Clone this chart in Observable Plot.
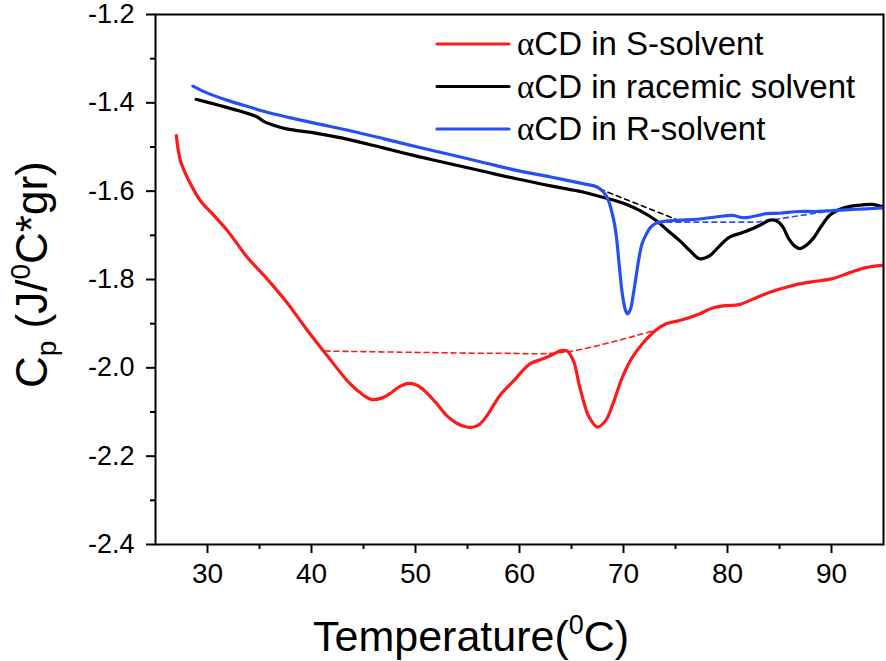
<!DOCTYPE html>
<html>
<head>
<meta charset="utf-8">
<script src="https://cdn.jsdelivr.net/npm/d3@7"></script>
<script src="https://cdn.jsdelivr.net/npm/@observablehq/plot@0.6"></script>
<style>
  html, body { margin: 0; padding: 0; background: white; }
  #chart { position: relative; width: 886px; height: 661px; }
</style>
</head>
<body>
<div id="chart"></div>
<script>
// ---- data ----
const sTemp = [27.0, 27.4, 28.2, 29.3, 30.5, 31.9, 33.8, 35.7, 37.6, 39.5, 41.5, 43.7, 45.0, 45.8, 46.8, 47.5, 48.5, 49.4, 50.2, 51.0, 52.0, 53.0, 54.0, 54.9, 55.6, 56.2, 57.0, 58.1, 59.5, 61.0, 62.2, 63.0, 64.0, 64.6, 65.2, 65.8, 66.7, 67.5, 68.3, 69.0, 69.9, 70.8, 71.8, 73.1, 74.1, 75.4, 77.3, 78.5, 79.9, 81.1, 82.4, 83.7, 85.3, 86.9, 88.5, 90.1, 91.7, 93.3, 94.9];
const sCp   = [-1.474, -1.531, -1.576, -1.621, -1.652, -1.689, -1.749, -1.798, -1.851, -1.912, -1.972, -2.036, -2.062, -2.072, -2.068, -2.059, -2.042, -2.035, -2.040, -2.055, -2.080, -2.108, -2.126, -2.134, -2.134, -2.127, -2.104, -2.063, -2.028, -1.991, -1.980, -1.972, -1.961, -1.962, -1.985, -2.044, -2.112, -2.134, -2.119, -2.080, -2.021, -1.978, -1.946, -1.915, -1.900, -1.893, -1.878, -1.865, -1.859, -1.857, -1.845, -1.832, -1.820, -1.810, -1.804, -1.798, -1.785, -1.773, -1.768];

const racTemp = [28.9, 31.0, 33.0, 34.7, 35.4, 36.5, 37.6, 40.5, 43.0, 46.9, 50.0, 53.3, 56.5, 59.7, 63.0, 66.1, 67.7, 69.0, 70.3, 71.5, 73.1, 74.3, 75.4, 76.4, 77.3, 78.3, 79.2, 80.2, 81.3, 82.4, 83.3, 84.0, 84.7, 85.3, 85.9, 86.5, 87.0, 87.6, 88.2, 89.0, 89.8, 90.7, 91.7, 93.0, 93.9, 94.9];
const racCp   = [-1.392, -1.405, -1.418, -1.431, -1.442, -1.452, -1.459, -1.469, -1.480, -1.502, -1.520, -1.538, -1.555, -1.572, -1.588, -1.602, -1.612, -1.620, -1.630, -1.643, -1.666, -1.690, -1.712, -1.735, -1.753, -1.746, -1.725, -1.704, -1.695, -1.685, -1.675, -1.666, -1.667, -1.680, -1.708, -1.725, -1.730, -1.722, -1.708, -1.680, -1.655, -1.642, -1.635, -1.631, -1.630, -1.635];

const rTemp = [28.6, 30.0, 32.0, 34.1, 36.0, 38.0, 40.5, 43.5, 46.9, 50.0, 53.3, 56.5, 59.7, 63.0, 66.1, 67.4, 68.0, 68.5, 69.0, 69.3, 69.6, 69.9, 70.2, 70.4, 70.7, 70.9, 71.2, 71.5, 71.8, 72.2, 72.6, 73.1, 74.0, 75.0, 77.3, 79.0, 80.5, 81.5, 82.1, 83.7, 85.0, 86.9, 88.5, 90.1, 91.7, 93.3, 94.9];
const rCp   = [-1.362, -1.378, -1.395, -1.410, -1.423, -1.434, -1.447, -1.462, -1.481, -1.499, -1.517, -1.535, -1.553, -1.568, -1.583, -1.590, -1.600, -1.618, -1.659, -1.700, -1.770, -1.835, -1.870, -1.878, -1.865, -1.840, -1.795, -1.750, -1.718, -1.697, -1.682, -1.673, -1.668, -1.666, -1.663, -1.658, -1.655, -1.660, -1.659, -1.651, -1.650, -1.646, -1.646, -1.644, -1.642, -1.640, -1.638];

// dashed baselines
const sBaseTemp = [41.3, 50.0, 58.0, 64.5, 73.3];
const sBaseCp   = [-1.962, -1.965, -1.967, -1.964, -1.913];
const racBaseTemp = [67.7, 75.5];
const racBaseCp   = [-1.595, -1.668];
const rBaseTemp = [73.3, 82.9, 89.8];
const rBaseCp   = [-1.670, -1.670, -1.645];

const seriesNames = ["αCD in S-solvent", "αCD in racemic solvent", "αCD in R-solvent"];
const seriesColors = ["#ff1a1a", "#000000", "#2650f5"];

const xMajor = [30, 40, 50, 60, 70, 80, 90];
const xMinor = [35, 45, 55, 65, 75, 85];
const yMajor = [-2.4, -2.2, -2.0, -1.8, -1.6, -1.4, -1.2];
const yMinor = [-2.3, -2.1, -1.9, -1.7, -1.5, -1.3];

// ---- build tables ----
const toRows = (xs, ys) => xs.map((x, i) => ({x, y: ys[i]}));
const sRows = toRows(sTemp, sCp);
const racRows = toRows(racTemp, racCp);
const rRows = toRows(rTemp, rCp);

const font = "'Liberation Sans', Arial, Helvetica, sans-serif";

const plot = Plot.plot({
  width: 886,
  height: 661,
  marginLeft: 155,
  marginRight: 3,
  marginTop: 14,
  marginBottom: 117,
  style: {fontFamily: font, background: "white", color: "black", overflow: "visible"},
  x: {domain: [25, 95]},
  y: {domain: [-2.4, -1.2]},
  marks: [
    Plot.axisX({ticks: xMajor, tickSize: 9, tickPadding: 10, strokeWidth: 2, label: null, tickFormat: d => String(d)}),
    Plot.axisX({ticks: xMinor, tickSize: 5, strokeWidth: 2, label: null, tickFormat: () => ""}),
    Plot.axisY({ticks: yMajor, tickSize: 9, tickPadding: 12, strokeWidth: 2, label: null, tickFormat: d => d.toFixed(1)}),
    Plot.axisY({ticks: yMinor, tickSize: 5, strokeWidth: 2, label: null, tickFormat: () => ""}),
    Plot.line(toRows(sBaseTemp, sBaseCp), {x: "x", y: "y", stroke: seriesColors[0], strokeWidth: 1.6, strokeDasharray: "5,4", curve: "catmull-rom"}),
    Plot.line(toRows(racBaseTemp, racBaseCp), {x: "x", y: "y", stroke: seriesColors[1], strokeWidth: 1.6, strokeDasharray: "5,4"}),
    Plot.line(toRows(rBaseTemp, rBaseCp), {x: "x", y: "y", stroke: seriesColors[2], strokeWidth: 1.6, strokeDasharray: "5,4"}),
    Plot.line(sRows, {x: "x", y: "y", stroke: seriesColors[0], strokeWidth: 3.2, curve: "catmull-rom"}),
    Plot.line(racRows, {x: "x", y: "y", stroke: seriesColors[1], strokeWidth: 3.2, curve: "catmull-rom"}),
    Plot.line(rRows, {x: "x", y: "y", stroke: seriesColors[2], strokeWidth: 3.2, curve: "catmull-rom"}),
    Plot.frame({stroke: "black", strokeWidth: 2})
  ]
});

document.getElementById("chart").appendChild(plot);

const svg = d3.select(plot);

// enlarge tick labels
svg.selectAll("g[aria-label='x-axis tick label']").attr("font-size", 28).style("font-size", "28px");
svg.selectAll("g[aria-label='x-axis tick label'] text").style("font-size", "28px");
svg.selectAll("g[aria-label='y-axis tick label']").attr("font-size", 27).style("font-size", "27px");
svg.selectAll("g[aria-label='y-axis tick label'] text").style("font-size", "27px");

// x title
const xt = svg.append("text")
  .attr("x", 313).attr("y", 651).attr("text-anchor", "start")
  .attr("font-family", font).attr("font-size", 43).attr("fill", "black");
xt.append("tspan").text("Temperature(");
xt.append("tspan").attr("font-size", 27).attr("dy", -17).text("0");
xt.append("tspan").attr("dy", 17).text("C)");

// y title
const yt = svg.append("text")
  .attr("transform", "translate(47,388) rotate(-90)").attr("text-anchor", "start")
  .attr("font-family", font).attr("font-size", 44).attr("fill", "black");
yt.append("tspan").text("C");
yt.append("tspan").attr("font-size", 28).attr("dy", 9).text("p");
yt.append("tspan").attr("dy", -9).text(" (J/");
yt.append("tspan").attr("font-size", 28).attr("dy", -17).text("0");
yt.append("tspan").attr("dy", 17).text("C*gr)");

// legend
const rowY = [44, 86.5, 129];
seriesNames.forEach((name, i) => {
  svg.append("line")
    .attr("x1", 437).attr("x2", 509).attr("y1", rowY[i]).attr("y2", rowY[i])
    .attr("stroke", seriesColors[i]).attr("stroke-width", 3.2).attr("stroke-linecap", "round");
  const t = svg.append("text")
    .attr("x", 517).attr("y", rowY[i] + 11).attr("text-anchor", "start")
    .attr("font-family", font).attr("font-size", 33).attr("fill", "black");
  t.append("tspan").attr("font-family", "'Liberation Serif', 'DejaVu Serif', serif").text(name.slice(0, 1));
  t.append("tspan").text(name.slice(1));
});
</script>
</body>
</html>
